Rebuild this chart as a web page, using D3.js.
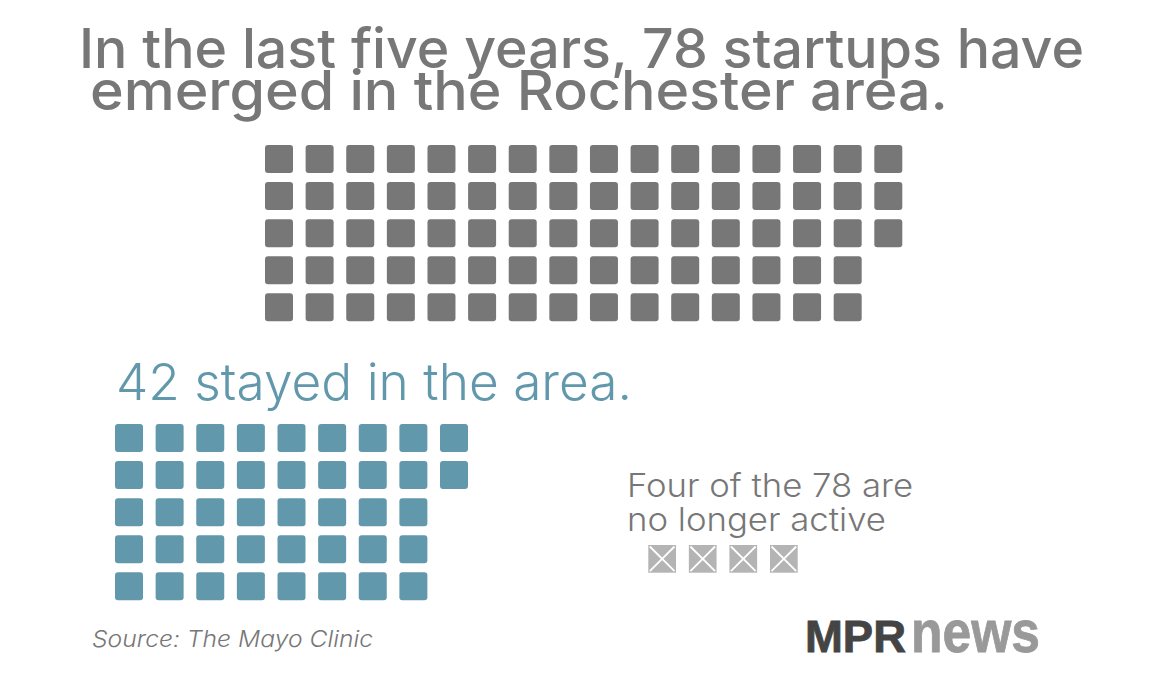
<!DOCTYPE html>
<html>
<head>
<meta charset="utf-8">
<script src="https://cdn.jsdelivr.net/npm/d3@7"></script>
<style>
  html, body { margin: 0; padding: 0; background: #fff; }
  svg { display: block; }
</style>
</head>
<body>
<div id="chart"></div>
<script>
// ---- data ----
const titleLines = ["In the last five years, 78 startups have", "emerged in the Rochester area."];
const groups = ["Startups that emerged", "Stayed in the area", "No longer active"];
const counts = [78, 42, 4];
const stayedLabel = ["42 stayed in the area."];
const inactiveLabel = ["Four of the 78 are", "no longer active"];
const sourceLabel = ["Source: The Mayo Clinic"];
const logoParts = ["MPR", "news"];

// ---- layout ----
const W = 1149, H = 675;
const ROWS = 5;
const svg = d3.select("#chart").append("svg")
  .attr("width", W).attr("height", H);
svg.append("rect").attr("width", W).attr("height", H).attr("fill", "#fff");

const FONT = "Inter, 'Open Sans', 'DejaVu Sans', sans-serif";
const GREY = "#777777";
const BLUE = "#6298ab";
const SQ = 28;

// Title (one text block, two lines)
svg.append("text")
  .attr("font-family", FONT)
  .attr("font-size", 54.5)
  .attr("font-weight", 500)
  .attr("fill", GREY)
  .selectAll("tspan").data(titleLines).join("tspan")
  .attr("x", (d, i) => i === 0 ? 79 : 90)
  .attr("y", (d, i) => i === 0 ? 67.5 : 110)
  .attr("textLength", (d, i) => i === 0 ? 1005 : 858)
  .attr("lengthAdjust", "spacingAndGlyphs")
  .text(d => d);

// Waffle helper (column-major fill)
function waffle(n, x0, x1, cols, y0, y1, color) {
  const x = d3.scaleLinear().domain([0, cols - 1]).range([x0, x1]);
  const y = d3.scaleLinear().domain([0, ROWS - 1]).range([y0, y1]);
  svg.append("g").selectAll("rect").data(d3.range(n)).join("rect")
    .attr("x", i => x(Math.floor(i / ROWS)))
    .attr("y", i => y(i % ROWS))
    .attr("width", SQ).attr("height", SQ)
    .attr("rx", 3).attr("ry", 3)
    .attr("fill", color);
}

// All startups: 78
waffle(counts[0], 265, 874.3, Math.ceil(counts[0] / ROWS), 145, 293.3, GREY);

// Stayed label
svg.append("text")
  .attr("x", 116).attr("y", 399.5)
  .attr("font-family", FONT)
  .attr("font-size", 50.5)
  .attr("font-weight", 300)
  .attr("fill", BLUE)
  .attr("textLength", 516)
  .attr("lengthAdjust", "spacingAndGlyphs")
  .text(stayedLabel[0]);

// Stayed: 42
waffle(counts[1], 115, 440, Math.ceil(counts[1] / ROWS), 424, 572.3, BLUE);

// Inactive label (one text block, two lines)
svg.append("text")
  .attr("font-family", FONT)
  .attr("font-size", 32)
  .attr("font-weight", 300)
  .attr("fill", GREY)
  .selectAll("tspan").data(inactiveLabel).join("tspan")
  .attr("x", 627)
  .attr("y", (d, i) => 496.8 + i * 34.5)
  .attr("textLength", (d, i) => i === 0 ? 286 : 259)
  .attr("lengthAdjust", "spacingAndGlyphs")
  .text(d => d);

// Inactive: 4 crossed squares
const xi = d3.scaleLinear().domain([0, counts[2] - 1]).range([648.3, 770]);
const XS = 27.7;
const crosses = svg.append("g").selectAll("g").data(d3.range(counts[2])).join("g")
  .attr("transform", i => `translate(${xi(i)},545)`);
crosses.append("rect").attr("width", XS).attr("height", XS).attr("fill", "#b4b4b4");
crosses.append("path")
  .attr("d", `M1.5,1.5L${XS - 1.5},${XS - 1.5}M${XS - 1.5},1.5L1.5,${XS - 1.5}`)
  .attr("stroke", "#fff").attr("stroke-width", 1.8).attr("fill", "none");

// Source
svg.append("text")
  .attr("x", 92).attr("y", 646.7)
  .attr("font-family", FONT)
  .attr("font-size", 22.5)
  .attr("font-style", "italic")
  .attr("font-weight", 300)
  .attr("fill", GREY)
  .attr("textLength", 281)
  .attr("lengthAdjust", "spacingAndGlyphs")
  .text(sourceLabel[0]);

// Logo
svg.append("text")
  .attr("x", 805).attr("y", 651.7)
  .attr("font-family", "'Liberation Sans', Arial, sans-serif")
  .attr("font-size", 43.5).attr("font-weight", 700)
  .attr("fill", "#444444")
  .attr("stroke", "#444444").attr("stroke-width", 0.8)
  .attr("textLength", 101).attr("lengthAdjust", "spacingAndGlyphs")
  .text(logoParts[0]);
svg.append("text")
  .attr("x", 911).attr("y", 651.7)
  .attr("font-family", "'Liberation Sans', Arial, sans-serif")
  .attr("font-size", 60).attr("font-weight", 700)
  .attr("fill", "#999999")
  .attr("stroke", "#999999").attr("stroke-width", 0.8)
  .attr("textLength", 129).attr("lengthAdjust", "spacingAndGlyphs")
  .text(logoParts[1]);
</script>
</body>
</html>
